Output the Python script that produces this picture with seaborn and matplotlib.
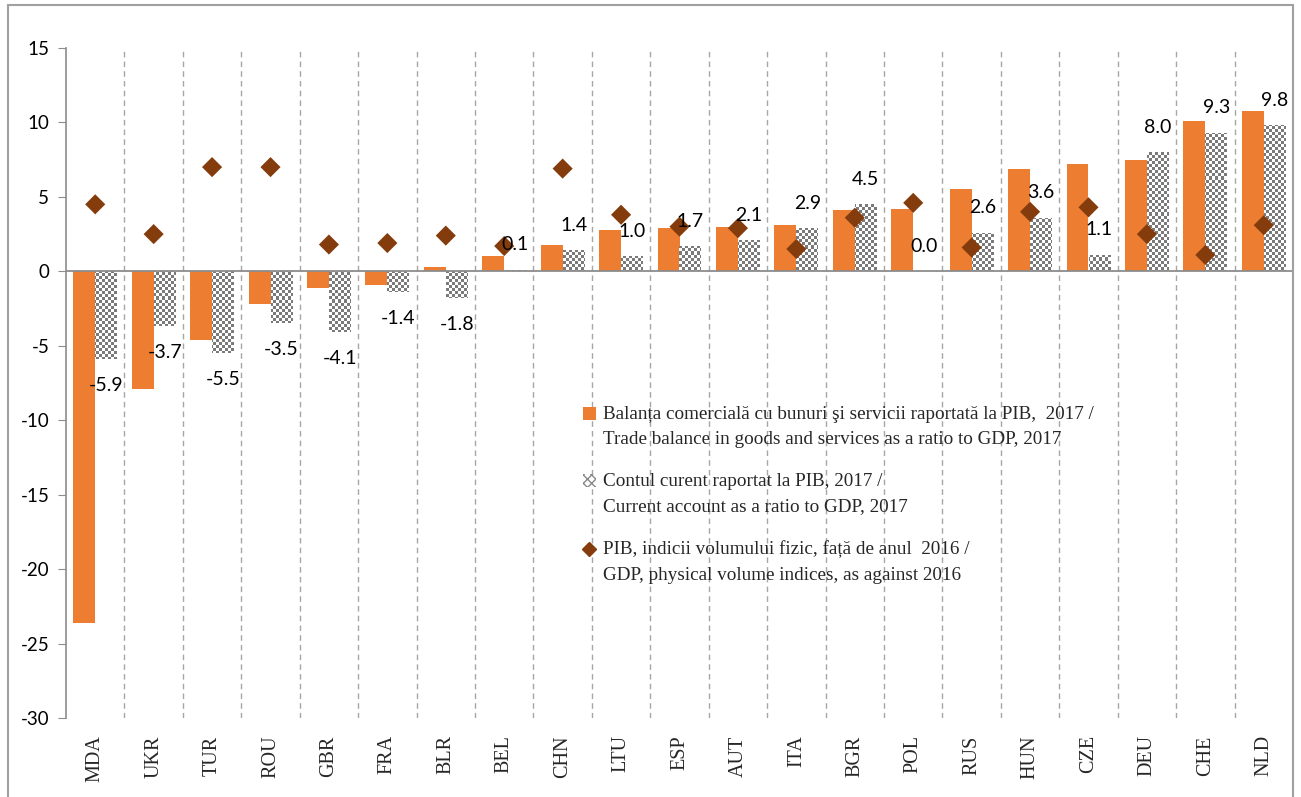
import numpy as np
import pandas as pd
import matplotlib
matplotlib.use('Agg')
import matplotlib.pyplot as plt
import seaborn as sns
from matplotlib.patches import Patch, Rectangle
from matplotlib.lines import Line2D
from matplotlib.colors import ListedColormap
from matplotlib.ticker import FixedLocator

countries = ['MDA', 'UKR', 'TUR', 'ROU', 'GBR', 'FRA', 'BLR', 'BEL', 'CHN', 'LTU', 'ESP',
             'AUT', 'ITA', 'BGR', 'POL', 'RUS', 'HUN', 'CZE', 'DEU', 'CHE', 'NLD']
trade_balance = [-23.6, -7.9, -4.6, -2.2, -1.1, -0.9, 0.3, 1.0, 1.8, 2.8, 2.9,
                 3.0, 3.1, 4.1, 4.2, 5.5, 6.9, 7.2, 7.5, 10.1, 10.8]
current_account = [-5.9, -3.7, -5.5, -3.5, -4.1, -1.4, -1.8, 0.1, 1.4, 1.0, 1.7,
                   2.1, 2.9, 4.5, 0.0, 2.6, 3.6, 1.1, 8.0, 9.3, 9.8]
gdp_index = [4.5, 2.5, 7.0, 7.0, 1.8, 1.9, 2.4, 1.7, 6.9, 3.8, 3.0,
             2.9, 1.5, 3.6, 4.6, 1.6, 4.0, 4.3, 2.5, 1.1, 3.1]

label_trade = ('Balanța comercială cu bunuri şi servicii raportată la PIB,  2017 /\n'
               'Trade balance in goods and services as a ratio to GDP, 2017')
label_current = ('Contul curent raportat la PIB, 2017 /\n'
                 'Current account as a ratio to GDP, 2017')
label_gdp = ('PIB, indicii volumului fizic, față de anul  2016 /\n'
             'GDP, physical volume indices, as against 2016')

orange = '#ED7D31'
brown = '#843C0C'
axis_gray = '#8c8c8c'

df = pd.DataFrame({'country': countries, 'trade': trade_balance,
                   'current': current_account, 'gdp': gdp_index})
long_df = df.melt(id_vars='country', value_vars=['trade', 'current'],
                  var_name='series', value_name='value')

sns.set_style('white')
plt.rcParams['font.family'] = ['Lato', 'DejaVu Sans']
plt.rcParams['axes.unicode_minus'] = False

W, H = 1301, 797
fig = plt.figure(figsize=(W / 100, H / 100), dpi=100)
ax = fig.add_axes([66 / W, 1 - 718 / H, (1293 - 66) / W, (718 - 48) / H])

sns.barplot(data=long_df, x='country', y='value', hue='series',
            palette={'trade': orange, 'current': 'white'}, width=0.75,
            saturation=1, errorbar=None, legend=False, linewidth=0, ax=ax)

xlim = (-0.5, len(countries) - 0.5)
ylim = (-30, 15)

# checker pattern for the current account bars
cells = np.indices((223, 410)).sum(axis=0) % 2
checker_cmap = ListedColormap(['white', '#7a7a7a'])
for bar in ax.containers[1]:
    im = ax.imshow(cells, cmap=checker_cmap, extent=(xlim[0], xlim[1], ylim[0], ylim[1]),
                   aspect='auto', interpolation='nearest', zorder=2)
    im.set_clip_path(bar)

sns.scatterplot(x=np.arange(len(countries)), y=gdp_index, marker='D', color=brown,
                s=105, edgecolor='none', zorder=4, legend=False, ax=ax)

for bar, v in zip(ax.containers[1], current_account):
    cx = bar.get_x() + bar.get_width() / 2
    ax.annotate(f'{v:.1f}', (cx, v), xytext=(0, 18 if v >= 0 else -19),
                textcoords='offset points', ha='center', va='center',
                fontsize=14, color='black', zorder=6)

ax.set_xlim(xlim)
ax.set_ylim(ylim)
ax.set_yticks(np.arange(-30, 16, 5))
ax.set_xlabel('')
ax.set_ylabel('')

ax.axhline(0, color=axis_gray, lw=1.3, zorder=3)
ax.xaxis.set_minor_locator(FixedLocator(np.arange(0.5, len(countries) - 1, 1)))
ax.grid(which='minor', axis='x', color='#a6a6a6', linestyle=(0, (4, 3)), lw=1)
ax.grid(which='major', axis='both', visible=False)

for side in ['top', 'right', 'bottom']:
    ax.spines[side].set_visible(False)
ax.spines['left'].set_color(axis_gray)
ax.spines['left'].set_linewidth(1.2)

ax.tick_params(axis='y', left=True, length=6, color=axis_gray, labelsize=13.5,
               labelcolor='black', pad=6)
ax.tick_params(axis='x', which='both', bottom=False, pad=9)
ax.set_xticks(np.arange(len(countries)))
ax.set_xticklabels(countries, rotation=90, fontsize=14.5, family='Liberation Serif')

handles = [Patch(facecolor=orange, edgecolor='none'),
           Patch(facecolor='white', edgecolor='#8a8a8a', hatch='xxxx', linewidth=0),
           Line2D([], [], marker='D', color=brown, linestyle='none', markersize=7)]
leg = ax.legend(handles, [label_trade, label_current, label_gdp],
                loc='upper left', bbox_to_anchor=(573 / W, 1 - 396 / H),
                bbox_transform=fig.transFigure, frameon=False, borderpad=0,
                prop={'family': 'Liberation Serif', 'size': 13.8},
                handlelength=0.68, handleheight=0.68, handletextpad=0.4,
                labelspacing=1.3)
for t in leg.get_texts():
    t.set_linespacing(1.65)
# align the legend keys with the first line of each label
shift = 9.5
for h in leg.legend_handles:
    if isinstance(h, Line2D):
        h.set_ydata([y + shift for y in h.get_ydata()])
    else:
        h.set_y(h.get_y() + shift)

# chart area border
fig.add_artist(Rectangle((8 / W, -0.01), (1293 - 8) / W, 1 - 5 / H + 0.01,
                         transform=fig.transFigure, fill=False,
                         edgecolor='#a0a0a0', lw=1.5))

fig.savefig('out.png', dpi=100, facecolor='white')
